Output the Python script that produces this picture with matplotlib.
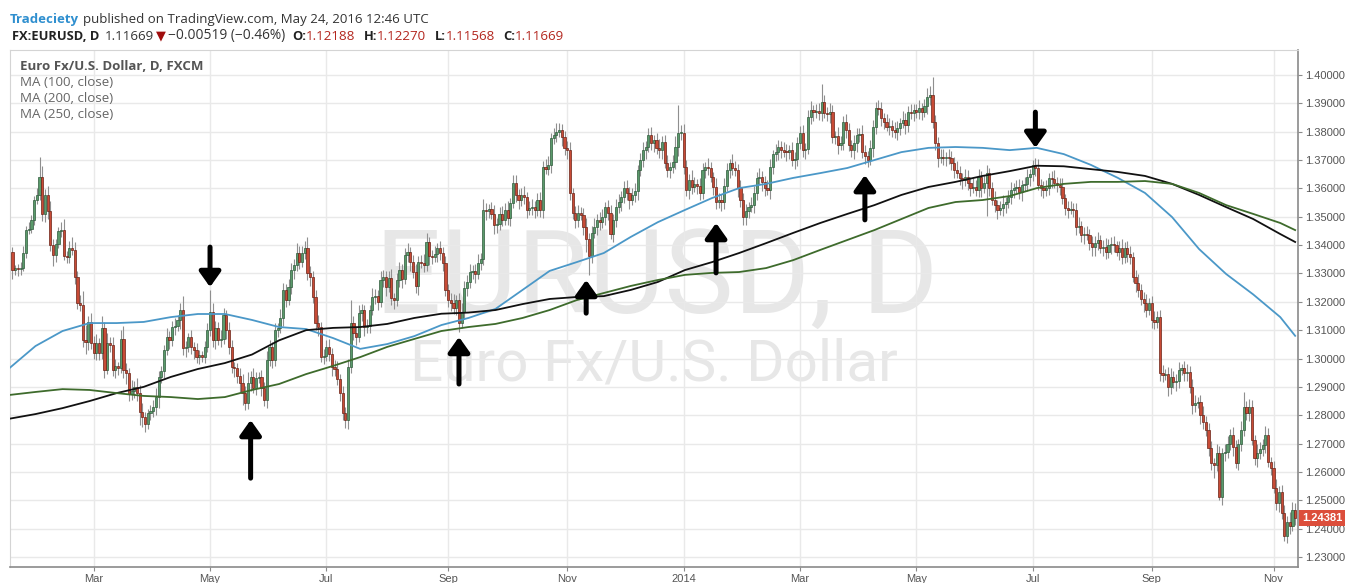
import matplotlib
matplotlib.use("Agg")
import matplotlib.pyplot as plt
import numpy as np
import pandas as pd

# EURUSD daily bars (FXCM), first bar 18 Jan 2013, one row per month
first_open = 1.3375
close_2013 = [
    1.3312, 1.3318, 1.3316, 1.3320, 1.3372, 1.3455, 1.3458, 1.3490, 1.3560, 1.3578,
    1.3640, 1.3510, 1.3577, 1.3520, 1.3400, 1.3365, 1.3405, 1.3450, 1.3455, 1.3360, 1.3358, 1.3390, 1.3382, 1.3287, 1.3195, 1.3190, 1.3065, 1.3060, 1.3130, 1.3055,
    1.3020, 1.3055, 1.3020, 1.3108, 1.2960, 1.3055, 1.3048, 1.2960, 1.2975, 1.2967, 1.3070, 1.2960, 1.2950, 1.2875, 1.2885, 1.2900, 1.2880, 1.2810, 1.2793, 1.2770, 1.2807,
    1.2815, 1.2829, 1.2865, 1.2935, 1.2955, 1.3030, 1.3076, 1.3065, 1.3110, 1.3114, 1.3135, 1.3170, 1.3037, 1.3042, 1.3076, 1.3040, 1.3030, 1.3005, 1.3012, 1.3005, 1.3040, 1.3100,
    1.3165, 1.3065, 1.3108, 1.3065, 1.3070, 1.3153, 1.3100, 1.3040, 1.2970, 1.2965, 1.2940, 1.2915, 1.2880, 1.2843, 1.2915, 1.2935, 1.2897, 1.2930, 1.2935, 1.2897, 1.2853, 1.2995, 1.3040,
    1.2995, 1.3100, 1.3108, 1.3143, 1.3242, 1.3207, 1.3252, 1.3312, 1.3330, 1.3372, 1.3340, 1.3372, 1.3390, 1.3300, 1.3287, 1.3217, 1.3125, 1.3110, 1.3005, 1.3010,
    1.3040, 1.3017, 1.2970, 1.2962, 1.2927, 1.2880, 1.2808, 1.2783, 1.2970, 1.3125, 1.3090, 1.3076, 1.3160, 1.3170, 1.3110, 1.3115, 1.3170, 1.3217, 1.3222, 1.3200, 1.3277, 1.3287, 1.3252,
    1.3284, 1.3213, 1.3206, 1.3277, 1.3312, 1.3280, 1.3365, 1.3376, 1.3340, 1.3305, 1.3255, 1.3340, 1.3337, 1.3330, 1.3410, 1.3360, 1.3358, 1.3370, 1.3390, 1.3372, 1.3337, 1.3242,
    1.3206, 1.3196, 1.3178, 1.3206, 1.3125, 1.3165, 1.3250, 1.3270, 1.3305, 1.3310, 1.3298, 1.3337, 1.3350, 1.3524, 1.3520, 1.3528, 1.3510, 1.3470, 1.3475, 1.3510, 1.3490,
    1.3524, 1.3497, 1.3548, 1.3620, 1.3577, 1.3559, 1.3577, 1.3570, 1.3524, 1.3530, 1.3534, 1.3524, 1.3559, 1.3524, 1.3676, 1.3670, 1.3683, 1.3777, 1.3790, 1.3800, 1.3806, 1.3780, 1.3742,
    1.3735, 1.3584, 1.3513, 1.3490, 1.3513, 1.3506, 1.3465, 1.3420, 1.3360, 1.3443, 1.3465, 1.3490, 1.3480, 1.3500, 1.3535, 1.3513, 1.3440, 1.3490, 1.3535, 1.3552, 1.3570,
    1.3601, 1.3584, 1.3559, 1.3577, 1.3590, 1.3665, 1.3700, 1.3735, 1.3746, 1.3788, 1.3760, 1.3770, 1.3743, 1.3735, 1.3764, 1.3690, 1.3665, 1.3676, 1.3693, 1.3746, 1.3795, 1.3797,
]
close_2014 = [
    1.3676, 1.3594, 1.3630, 1.3605, 1.3615, 1.3610, 1.3584, 1.3665, 1.3676, 1.3672, 1.3640, 1.3605, 1.3552, 1.3560, 1.3552, 1.3610, 1.3665, 1.3690, 1.3672, 1.3665, 1.3600, 1.3560, 1.3500,
    1.3520, 1.3535, 1.3540, 1.3584, 1.3637, 1.3640, 1.3623, 1.3600, 1.3594, 1.3676, 1.3720, 1.3728, 1.3746, 1.3735, 1.3730, 1.3728, 1.3735, 1.3700, 1.3705, 1.3760,
    1.3795, 1.3735, 1.3740, 1.3852, 1.3877, 1.3870, 1.3874, 1.3866, 1.3905, 1.3866, 1.3862, 1.3870, 1.3780, 1.3784, 1.3753, 1.3760, 1.3834, 1.3806, 1.3753, 1.3735, 1.3760,
    1.3788, 1.3792, 1.3728, 1.3715, 1.3700, 1.3743, 1.3817, 1.3883, 1.3880, 1.3850, 1.3834, 1.3817, 1.3821, 1.3806, 1.3799, 1.3813, 1.3830, 1.3841, 1.3824, 1.3869, 1.3865, 1.3875,
    1.3869, 1.3883, 1.3869, 1.3890, 1.3923, 1.3930, 1.3834, 1.3760, 1.3707, 1.3712, 1.3707, 1.3710, 1.3707, 1.3690, 1.3665, 1.3654, 1.3637, 1.3630, 1.3640, 1.3620, 1.3601, 1.3605,
    1.3594, 1.3640, 1.3601, 1.3620, 1.3654, 1.3600, 1.3560, 1.3540, 1.3524, 1.3530, 1.3545, 1.3552, 1.3570, 1.3594, 1.3600, 1.3604, 1.3587, 1.3612, 1.3616, 1.3640, 1.3650,
    1.3683, 1.3672, 1.3612, 1.3600, 1.3594, 1.3601, 1.3637, 1.3633, 1.3620, 1.3612, 1.3605, 1.3566, 1.3530, 1.3524, 1.3528, 1.3524, 1.3464, 1.3468, 1.3436, 1.3440, 1.3436, 1.3407, 1.3393,
    1.3407, 1.3418, 1.3390, 1.3394, 1.3376, 1.3400, 1.3404, 1.3400, 1.3376, 1.3390, 1.3358, 1.3390, 1.3370, 1.3358, 1.3287, 1.3266, 1.3242, 1.3210, 1.3196, 1.3171, 1.3196,
    1.3136, 1.3129, 1.3146, 1.2948, 1.2941, 1.2945, 1.2900, 1.2935, 1.2917, 1.2921, 1.2959, 1.2966, 1.2948, 1.2952, 1.2900, 1.2836, 1.2843, 1.2847, 1.2800, 1.2776, 1.2748, 1.2684,
    1.2630, 1.2624, 1.2667, 1.2511, 1.2667, 1.2670, 1.2700, 1.2730, 1.2688, 1.2631, 1.2700, 1.2748, 1.2830, 1.2808, 1.2830, 1.2712, 1.2649, 1.2667, 1.2680, 1.2695, 1.2730, 1.2635, 1.2614,
    1.2545, 1.2490, 1.2530, 1.2455, 1.2375, 1.2425, 1.2410, 1.2465, 1.2438,
]
# wick lengths in pips above the body top / below the body bottom
wick_up_2013 = [
    18, 12, 15, 20, 25, 14, 22, 16, 12, 24,
    71, 38, 22, 30, 34, 20, 18, 15, 28, 36, 18, 26, 40, 28, 22, 30, 48, 52, 20, 32,
    24, 30, 18, 42, 22, 36, 20, 28, 24, 14, 30, 46, 25, 18, 40, 22, 30, 26, 34, 20, 16,
    20, 26, 30, 22, 18, 16, 30, 20, 24, 28, 18, 25, 50, 20, 14, 26, 20, 24, 18, 16, 22, 26,
    78, 30, 24, 20, 32, 26, 18, 30, 24, 16, 20, 26, 30, 22, 36, 20, 30, 24, 18, 26, 20, 30, 24,
    20, 24, 18, 30, 26, 20, 28, 24, 22, 34, 26, 24, 26, 40, 28, 20, 26, 30, 18, 24,
    24, 30, 20, 26, 28, 18, 24, 22, 30, 81, 26, 20, 28, 24, 18, 26, 20, 30, 24, 18, 30, 26, 20,
    26, 30, 18, 24, 28, 20, 26, 30, 18, 24, 28, 22, 26, 30, 34, 20, 24, 28, 18, 26, 22, 24,
    20, 26, 30, 18, 24, 30, 22, 26, 28, 20, 24, 30, 22, 40, 26, 18, 24, 30, 20, 26, 28,
    24, 30, 18, 26, 28, 20, 24, 30, 18, 26, 30, 22, 24, 28, 20, 26, 30, 18, 24, 30, 26, 20, 24,
    26, 30, 18, 24, 28, 20, 26, 30, 22, 24, 30, 20, 26, 28, 18, 24, 30, 20, 26, 28, 22,
    24, 30, 20, 26, 28, 18, 24, 30, 20, 26, 28, 18, 24, 30, 20, 26, 28, 18, 24, 40, 98, 26,
]
wick_dn_2013 = [
    30, 18, 24, 20, 12, 18, 16, 14, 20, 16,
    20, 26, 30, 28, 20, 40, 24, 16, 20, 14, 22, 20, 16, 24, 20, 22, 26, 44, 30, 20,
    20, 24, 26, 20, 30, 16, 24, 20, 30, 26, 18, 30, 40, 24, 20, 26, 30, 44, 36, 30, 20,
    24, 20, 30, 40, 20, 24, 16, 30, 20, 26, 18, 30, 24, 30, 20, 24, 30, 20, 26, 16, 20, 18,
    20, 26, 30, 18, 24, 20, 30, 24, 20, 30, 26, 34, 44, 26, 20, 30, 18, 24, 16, 30, 20, 26, 20,
    30, 20, 24, 18, 30, 26, 20, 24, 30, 20, 26, 18, 20, 24, 30, 20, 26, 30, 18, 24,
    20, 26, 30, 24, 20, 30, 26, 28, 30, 20, 24, 30, 18, 26, 30, 20, 24, 18, 26, 30, 20, 24, 30,
    18, 26, 30, 20, 24, 30, 18, 26, 30, 20, 24, 30, 18, 26, 20, 30, 24, 18, 30, 26, 30, 20,
    26, 30, 20, 24, 30, 18, 26, 30, 20, 24, 30, 18, 26, 20, 30, 24, 18, 30, 26, 20, 24,
    20, 26, 30, 18, 24, 30, 20, 26, 30, 18, 24, 30, 20, 26, 30, 18, 24, 30, 20, 26, 18, 30, 24,
    30, 24, 20, 30, 26, 18, 30, 44, 65, 24, 18, 30, 26, 20, 30, 24, 18, 30, 26, 20, 30,
    20, 26, 30, 18, 24, 30, 20, 26, 30, 18, 24, 30, 20, 26, 30, 18, 24, 30, 20, 26, 30, 24,
]
wick_up_2014 = [
    30, 24, 20, 34, 26, 18, 28, 24, 16, 30, 22, 18, 32, 24, 20, 28, 26, 14, 30, 24, 22, 30, 24,
    24, 18, 30, 26, 20, 32, 22, 20, 28, 26, 16, 30, 24, 22, 30, 26, 18, 28, 24, 20,
    24, 30, 20, 26, 32, 18, 24, 28, 62, 26, 20, 30, 24, 18, 32, 26, 20, 28, 24, 18, 30,
    26, 20, 32, 24, 18, 28, 26, 22, 30, 24, 16, 30, 26, 20, 28, 24, 18, 32, 26, 20, 30, 24,
    24, 30, 20, 26, 30, 30, 63, 24, 20, 28, 26, 18, 30, 24, 22, 30, 26, 16, 28, 24, 20, 30,
    24, 30, 20, 26, 28, 18, 24, 32, 20, 26, 30, 16, 24, 28, 20, 26, 30, 18, 24, 28, 20,
    17, 24, 30, 20, 26, 28, 18, 24, 32, 20, 26, 30, 16, 24, 28, 20, 26, 30, 18, 24, 28, 20, 24,
    26, 30, 18, 24, 32, 20, 26, 28, 16, 24, 30, 20, 26, 28, 18, 24, 32, 20, 26, 30, 18,
    24, 30, 20, 26, 28, 18, 24, 32, 20, 26, 30, 16, 24, 28, 20, 26, 30, 18, 24, 32, 20, 26,
    26, 20, 30, 24, 18, 28, 26, 22, 30, 24, 16, 32, 52, 20, 28, 24, 18, 30, 26, 20, 32, 24, 18,
    26, 30, 20, 24, 30, 20, 34, 30, 24,
]
wick_dn_2014 = [
    24, 20, 32, 26, 18, 28, 24, 22, 30, 26, 16, 30, 24, 20, 32, 26, 18, 28, 24, 22, 30, 26, 30,
    30, 26, 18, 28, 24, 20, 32, 26, 16, 30, 24, 22, 28, 26, 18, 30, 24, 20, 32, 26,
    20, 24, 30, 18, 26, 32, 20, 24, 28, 18, 26, 30, 20, 24, 32, 16, 26, 28, 20, 24, 30,
    30, 24, 22, 28, 26, 18, 32, 24, 20, 30, 26, 16, 28, 24, 22, 30, 26, 18, 32, 24, 20, 28,
    20, 24, 28, 18, 26, 30, 20, 24, 32, 18, 26, 28, 20, 24, 30, 16, 26, 32, 20, 24, 28, 18,
    20, 24, 30, 18, 117, 28, 20, 24, 32, 18, 26, 30, 20, 24, 28, 16, 26, 30, 20, 24, 32,
    24, 30, 18, 26, 28, 20, 24, 32, 18, 26, 30, 20, 24, 28, 16, 26, 30, 20, 24, 32, 18, 26, 30,
    30, 24, 18, 28, 26, 20, 32, 24, 16, 30, 26, 20, 28, 24, 18, 30, 26, 22, 32, 24, 18,
    30, 26, 20, 28, 24, 18, 32, 26, 20, 30, 24, 16, 28, 26, 20, 30, 24, 18, 32, 26, 20, 28,
    24, 46, 20, 11, 26, 30, 20, 24, 32, 18, 26, 28, 20, 24, 30, 16, 26, 32, 20, 24, 28, 18, 26,
    20, 26, 30, 20, 18, 26, 30, 20, 24,
]
last_price = 1.24381

# moving averages every 10 bars (last value on the final bar)
ma100 = [1.2963, 1.3044, 1.3097, 1.3125, 1.3125, 1.3129, 1.3146, 1.3157, 1.3157, 1.3136,
         1.3111, 1.3104, 1.3072, 1.3034, 1.3051, 1.3079, 1.3118, 1.3143, 1.3175, 1.3242,
         1.3309, 1.3340, 1.3372, 1.3429, 1.3481, 1.3524, 1.3566, 1.3601, 1.3616, 1.3637,
         1.3654, 1.3672, 1.3700, 1.3728, 1.3743, 1.3746, 1.3743, 1.3735, 1.3743, 1.3721,
         1.3683, 1.3637, 1.3584, 1.3499, 1.3386, 1.3298, 1.3226, 1.3146, 1.3080]
ma200 = [1.2787, 1.2804, 1.2825, 1.2850, 1.2878, 1.2900, 1.2935, 1.2963, 1.2984, 1.3014,
         1.3064, 1.3100, 1.3108, 1.3111, 1.3122, 1.3143, 1.3158, 1.3162, 1.3171, 1.3192,
         1.3210, 1.3217, 1.3220, 1.3242, 1.3270, 1.3312, 1.3340, 1.3372, 1.3407, 1.3443,
         1.3478, 1.3510, 1.3541, 1.3577, 1.3605, 1.3623, 1.3644, 1.3661, 1.3680, 1.3678,
         1.3668, 1.3658, 1.3644, 1.3616, 1.3577, 1.3534, 1.3492, 1.3439, 1.3411]
ma250 = [1.2871, 1.2882, 1.2892, 1.2889, 1.2878, 1.2868, 1.2864, 1.2857, 1.2864, 1.2889,
         1.2910, 1.2945, 1.2974, 1.3005, 1.3041, 1.3069, 1.3097, 1.3111, 1.3122, 1.3143,
         1.3171, 1.3206, 1.3231, 1.3256, 1.3277, 1.3295, 1.3302, 1.3305, 1.3319, 1.3347,
         1.3383, 1.3418, 1.3453, 1.3492, 1.3531, 1.3552, 1.3559, 1.3573, 1.3601, 1.3616,
         1.3623, 1.3623, 1.3626, 1.3616, 1.3584, 1.3541, 1.3510, 1.3478, 1.3453]

# hand-drawn arrows: bar date, price at the tip, price at the tail
arrow_dates = ["2013-05-01", "2013-05-22", "2013-09-06", "2013-11-12",
               "2014-01-17", "2014-04-04", "2014-07-02"]
arrow_tip = [1.3252, 1.2783, 1.3076, 1.3277, 1.3478, 1.3647, 1.3743]
arrow_tail = [1.3393, 1.2578, 1.2910, 1.3160, 1.3302, 1.3489, 1.3869]

W, H = 1345, 583
fig = plt.figure(figsize=(W / 100, H / 100), dpi=100)
ax = fig.add_axes([10 / W, 1 - 567 / H, 1288 / W, 517 / H])

close = np.array(close_2013 + close_2014)
n = len(close)
opens = np.concatenate([[first_open], close[:-1]])
up_w = np.array(wick_up_2013 + wick_up_2014) / 1e4
dn_w = np.array(wick_dn_2013 + wick_dn_2014) / 1e4
dates = pd.bdate_range("2013-01-18", periods=n)
x = np.arange(n)

body_top = np.maximum(opens, close)
body_bot = np.minimum(opens, close)
rise = close >= opens
ax.vlines(x, body_bot - dn_w, body_top + up_w, color="#8f8f8f", lw=0.8, zorder=2)
h = np.maximum(body_top - body_bot, 0.00025)
ax.bar(x[rise], h[rise], bottom=body_bot[rise], width=0.8, color="#5a9a6b",
       edgecolor="#2e5a3b", lw=0.5, zorder=3)
ax.bar(x[~rise], h[~rise], bottom=body_bot[~rise], width=0.8, color="#c84b36",
       edgecolor="#6a2216", lw=0.5, zorder=3)

ma_x = np.arange(len(ma100)) * 10.0 - 1.5
ma_x[-1] = n - 1
ax.plot(ma_x, ma100, color="#4b98c8", lw=1.3, zorder=4)
ax.plot(ma_x, ma200, color="#111111", lw=1.3, zorder=4)
ax.plot(ma_x, ma250, color="#3e6b2c", lw=1.3, zorder=4)

arrow_x = dates.get_indexer(pd.to_datetime(arrow_dates))
for xi, tip, tail in zip(arrow_x, arrow_tip, arrow_tail):
    ax.annotate("", xy=(xi, tip), xytext=(xi, tail),
                arrowprops=dict(arrowstyle="-|>,head_length=0.45,head_width=0.32",
                                color="black", lw=3.6, mutation_scale=20,
                                shrinkA=0, shrinkB=0), zorder=6)

# watermark
ax.text(0.502, 0.553, "EURUSD, D", transform=ax.transAxes, ha="center", va="center",
        fontsize=84, family="Roboto", color="#e7e7e7", zorder=0.5)
ax.text(0.5, 0.390, "Euro Fx/U.S. Dollar", transform=ax.transAxes, ha="center",
        va="center", fontsize=42, family="Roboto", color="#e7e7e7", zorder=0.5)

# axes styling
ax.set_xlim(-0.92, 475.05)
ax.set_ylim(1.22646, 1.40882)
yt = np.round(np.arange(1.23, 1.4001, 0.01), 2)
ax.set_yticks(yt)
ax.set_yticklabels(["%.5f" % v for v in yt])
ax.yaxis.tick_right()
tick_pos, tick_lab = [], []
for i in range(1, n):
    if dates[i].month != dates[i - 1].month and dates[i].month % 2 == 1:
        tick_pos.append(i)
        tick_lab.append(str(dates[i].year) if dates[i].month == 1 else dates[i].strftime("%b"))
ax.set_xticks(tick_pos)
ax.set_xticklabels(tick_lab)
ax.tick_params(axis="both", length=3, width=0.8, color="#8a8a8a", labelcolor="#555555",
               labelsize=8, pad=2)
for lab in ax.get_xticklabels() + ax.get_yticklabels():
    lab.set_family("Liberation Sans")
ax.grid(True, color="#e9e9e9", lw=1)
ax.set_axisbelow(True)
for side in ["left", "top"]:
    ax.spines[side].set_color("#d4d4d4")
for side in ["right", "bottom"]:
    ax.spines[side].set_color("#8a8a8a")
    ax.spines[side].set_linewidth(1.2)

# current price tag
ax.annotate("%.5f" % last_price, xy=(1, last_price), xycoords=("axes fraction", "data"),
            xytext=(3, 0), textcoords="offset points", ha="left", va="center",
            fontsize=8, family="Liberation Sans", color="white", weight="bold",
            bbox=dict(boxstyle="square,pad=0.25", fc="#dc4e3b", ec="none"), zorder=7)

# legend-style labels
ax.text(10 / 1288, 1 - 16 / 517, "Euro Fx/U.S. Dollar, D, FXCM", transform=ax.transAxes,
        fontsize=9.5, family="Open Sans", weight="bold", color="#555555", va="center")
for k, lab in enumerate(["MA (100, close)", "MA (200, close)", "MA (250, close)"]):
    ax.text(10 / 1288, 1 - (32 + 16 * k) / 517, lab, transform=ax.transAxes,
            fontsize=9.6, family="Open Sans", color="#666666", va="center")

# header
renderer = fig.canvas.get_renderer()


def header_text(xpos, ypos, txt, weight, color, size):
    return fig.text(xpos / W, 1 - ypos / H, txt, fontsize=size,
                    family=["Open Sans", "DejaVu Sans"],
                    weight=weight, color=color, va="center", ha="left")


t = header_text(10, 19, "Tradeciety", "bold", "#2f8fcf", 9.5)
header_text(10 + t.get_window_extent(renderer).width + 4, 19,
            "published on TradingView.com, May 24, 2016 12:46 UTC", "normal", "#333333", 9.5)

header_text(12, 36, "FX:EURUSD, D", "bold", "#222222", 9.3)
header_text(105, 36, "1.11669", "normal", "#333333", 9.6)
header_text(156, 36, "\u25bc", "normal", "#a00d0d", 9.3)
t = header_text(168, 36, "\u22120.00519 (\u22120.46%)", "normal", "#333333", 9.9)
xpos = 168 + t.get_window_extent(renderer).width + 7
for key, val in [("O:", "1.12188"), ("H:", "1.12270"), ("L:", "1.11568"), ("C:", "1.11669")]:
    t = header_text(xpos, 36, key, "bold", "#222222", 9.3)
    xpos += t.get_window_extent(renderer).width
    t = header_text(xpos, 36, val, "normal", "#b3261e", 9.6)
    xpos += t.get_window_extent(renderer).width + 8

fig.savefig("out.png", dpi=100)
